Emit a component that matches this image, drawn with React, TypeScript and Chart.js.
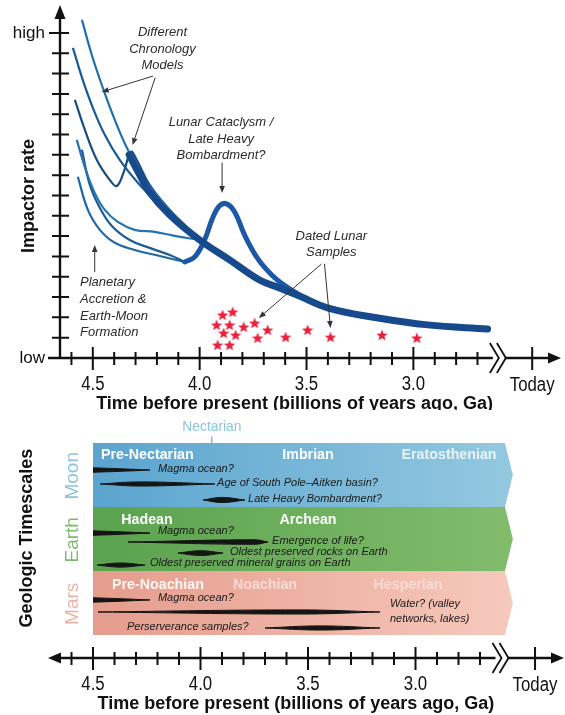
import React, { useEffect, useRef } from "react";
import { Chart, registerables } from "chart.js";

Chart.register(...registerables);

// ---------------- TOP PANEL DATA ----------------
// x = time before present (Ga), y = relative impactor rate (0 = low, 16 = high)
const model1Ga = [4.551, 4.505, 4.453, 4.397, 4.336, 4.257, 4.164, 4.07, 4.0];
const model1Rate = [16.65, 14.93, 13.3, 11.72, 10.25, 8.77, 7.54, 6.55, 5.91];
const model2Ga = [4.593, 4.547, 4.5, 4.444, 4.374, 4.28, 4.164, 4.047, 4.0];
const model2Rate = [15.27, 13.69, 12.32, 10.99, 9.75, 8.52, 7.29, 6.31, 5.91];
const model3Ga = [4.584, 4.537, 4.481, 4.421, 4.388, 4.355, 4.322, 4.294, 4.234, 4.14, 4.047, 4.0];
const model3Rate = [12.71, 11.23, 9.75, 8.77, 8.47, 9.16, 10.15, 9.75, 8.52, 7.29, 6.31, 5.91];
const model4Ga = [4.575, 4.533, 4.491, 4.444, 4.383, 4.304, 4.21, 4.117, 4.0];
const model4Rate = [10.74, 9.26, 8.13, 7.29, 6.7, 6.31, 6.21, 6.01, 5.81];
const model5Ga = [4.551, 4.514, 4.467, 4.411, 4.327, 4.234, 4.14, 4.07];
const model5Rate = [10.25, 8.52, 7.39, 6.5, 5.81, 5.42, 5.07, 4.73];
const model6Ga = [4.57, 4.523, 4.467, 4.397, 4.304, 4.187, 4.07];
const model6Rate = [8.92, 7.29, 6.31, 5.67, 5.32, 5.02, 4.73];
const lhbGa = [4.07, 4.023, 3.977, 3.939, 3.907, 3.874, 3.836, 3.79, 3.729, 3.664, 3.6, 3.533];
const lhbRate = [4.73, 4.98, 5.81, 6.9, 7.49, 7.59, 7.19, 6.06, 4.9, 4.1, 3.55, 3.1];
const mainGa = [4.33, 4.28, 4.234, 4.14, 4.0, 3.86, 3.72, 3.626, 3.533, 3.398, 3.165, 2.933, 2.653];
const mainRate = [10.0, 9.0, 8.15, 7.04, 5.81, 4.83, 3.84, 3.45, 3.05, 2.46, 1.97, 1.63, 1.43];
const sampleGa = [3.893, 3.846, 3.921, 3.86, 3.888, 3.832, 3.794, 3.743, 3.682, 3.729, 3.916, 3.86, 3.598, 3.495, 3.388, 3.147, 2.984];
const sampleRate = [2.12, 2.27, 1.63, 1.63, 1.23, 1.13, 1.53, 1.72, 1.38, 0.99, 0.64, 0.64, 1.03, 1.38, 1.03, 1.13, 0.99];

// axis ticks
const rateTicks = [1, 2, 3, 4, 5, 6, 7, 8, 9, 10, 11, 12, 13, 14, 15, 16];
const majorTickGa = [4.5, 4.0, 3.5, 3.0];
const majorTickLabels = ["4.5", "4.0", "3.5", "3.0"];
const minorTickGa = [4.6, 4.4, 4.3, 4.2, 4.1, 3.9, 3.8, 3.7, 3.6, 3.4, 3.3, 3.2, 3.1, 2.9, 2.8, 2.7];
const todayGa = 2.444;
const breakGa = 2.6;
const axisTitle = "Time before present (billions of years ago, Ga)";
const axisTitleGa = 3.556;

// top annotations (data units)
const noteLines = [
  ["Different", "Chronology", "Models"],
  ["Lunar Cataclysm /", "Late Heavy", "Bombardment?"],
  ["Dated Lunar", "Samples"],
  ["Planetary", "Accretion &", "Earth-Moon", "Formation"],
];
const noteGa = [4.174, 3.9, 3.384, 4.56];
const noteRate = [[16.02, 15.21, 14.42], [11.62, 10.78, 9.99], [6.01, 5.22], [3.74, 2.9, 2.07, 1.28]];
const noteAlign: CanvasTextAlign[] = ["center", "center", "center", "left"];
const arrowFromGa = [4.218, 4.208, 3.895, 3.43, 3.416, 4.491];
const arrowFromRate = [13.88, 13.8, 9.62, 4.63, 4.63, 4.23];
const arrowToGa = [4.458, 4.314, 3.895, 3.723, 3.388, 4.491];
const arrowToRate = [13.1, 10.49, 8.12, 1.97, 1.48, 5.56];

// ---------------- BOTTOM PANEL DATA ----------------
// y = lane units (each body occupies 4 units)
const bodies = ["Moon", "Earth", "Mars"];
const bodyTop = [0, 4, 8];
const bodyBottom = [4, 8, 12];
const bandStartGa = 4.5;
const bandEndGa = 2.584;
const bandTipGa = 2.547;
const eraNames = ["Pre-Nectarian", "Imbrian", "Eratosthenian", "Hadean", "Archean", "Pre-Noachian", "Noachian", "Hesperian"];
const eraGa = [4.247, 3.5, 2.844, 4.249, 3.5, 4.198, 3.7, 3.035];
const eraRow = [0.75, 0.75, 0.75, 4.81, 4.81, 8.88, 8.88, 8.88];
const eventNames = [
  "Magma ocean?",
  "Age of South Pole–Aitken basin?",
  "Late Heavy Bombardment?",
  "Magma ocean?",
  "Emergence of life?",
  "Oldest preserved rocks on Earth",
  "Oldest preserved mineral grains on Earth",
  "Magma ocean?",
  "Water? (valley\nnetworks, lakes)",
  "Perserverance samples?",
];
const eventRow = [1.69, 2.56, 3.56, 5.63, 6.19, 6.88, 7.63, 9.81, 10.56, 11.56];
const eventFromGa = [4.5, 4.467, 3.988, 4.5, 4.337, 4.105, 4.481, 4.5, 4.477, 3.7];
const eventPeakGa = [4.5, 4.281, 3.9, 4.5, 3.747, 4.0, 4.374, 4.5, 3.537, 3.444];
const eventToGa = [4.235, 3.933, 3.793, 4.235, 3.686, 3.895, 4.258, 4.235, 3.165, 3.165];
const eventHalf = [0.14, 0.13, 0.16, 0.14, 0.14, 0.15, 0.13, 0.14, 0.13, 0.13];
const eventLabelGa = [4.198, 3.923, 3.779, 4.198, 3.667, 3.863, 4.235, 4.198, 3.119, 4.342];
const eventLabelRow = [1.62, 2.5, 3.5, 5.5, 6.13, 6.81, 7.5, 9.69, 10.06, 11.5];
const nectarianGa = 3.947;

// ---------------- STYLES ----------------
const FONT = "'Liberation Sans', Arial, Helvetica, sans-serif";
const modelColors = ["#2170aa", "#1a5a94", "#184d84", "#2573ad", "#1b5b96", "#2068a3"];
const bodyColors = ["#8cc4dc", "#7dbb6c", "#e9b2a8"];
const bandLeft = ["#5aa4cf", "#5aa24e", "#e59c8c"];
const bandRight = ["#95c9e0", "#82bd6c", "#f6cabe"];
const eraColors = ["#ffffff", "#ffffff", "rgba(255,255,255,0.8)", "#ffffff", "#ffffff", "rgba(255,255,255,0.9)", "rgba(255,255,255,0.55)", "rgba(255,255,255,0.45)"];

function drawText(ctx: CanvasRenderingContext2D, s: string, x: number, y: number, font: string, color: string, align: CanvasTextAlign = "center", sx = 1, rot = 0) {
  ctx.save();
  ctx.translate(x, y);
  if (rot) ctx.rotate(rot);
  ctx.scale(sx, 1);
  ctx.font = font;
  ctx.fillStyle = color;
  ctx.textAlign = align;
  ctx.textBaseline = "middle";
  ctx.fillText(s, 0, 0);
  ctx.restore();
}

function drawArrow(ctx: CanvasRenderingContext2D, x1: number, y1: number, x2: number, y2: number, color: string) {
  const head = 7;
  const a = Math.atan2(y2 - y1, x2 - x1);
  const bx = x2 - head * Math.cos(a);
  const by = y2 - head * Math.sin(a);
  ctx.save();
  ctx.strokeStyle = color;
  ctx.fillStyle = color;
  ctx.lineWidth = 1;
  ctx.beginPath();
  ctx.moveTo(x1, y1);
  ctx.lineTo(bx, by);
  ctx.stroke();
  ctx.beginPath();
  ctx.moveTo(x2, y2);
  ctx.lineTo(bx + 2.8 * Math.sin(a), by - 2.8 * Math.cos(a));
  ctx.lineTo(bx - 2.8 * Math.sin(a), by + 2.8 * Math.cos(a));
  ctx.closePath();
  ctx.fill();
  ctx.restore();
}

function drawTimeAxis(chart: any, axisY: number, leftX: number, leftArrow: boolean) {
  const ctx: CanvasRenderingContext2D = chart.ctx;
  const xs = chart.scales.x;
  const breakX = xs.getPixelForValue(breakGa);
  const rightX = xs.right + 2;
  ctx.save();
  ctx.strokeStyle = "#111";
  ctx.fillStyle = "#111";
  ctx.lineWidth = 2.4;
  ctx.beginPath();
  ctx.moveTo(leftArrow ? leftX + 8 : leftX, axisY);
  ctx.lineTo(rightX - 8, axisY);
  ctx.stroke();
  ctx.beginPath();
  ctx.moveTo(rightX, axisY);
  ctx.lineTo(rightX - 13, axisY - 5.5);
  ctx.lineTo(rightX - 13, axisY + 5.5);
  ctx.closePath();
  ctx.fill();
  if (leftArrow) {
    ctx.beginPath();
    ctx.moveTo(leftX - 2, axisY);
    ctx.lineTo(leftX + 11, axisY - 5.5);
    ctx.lineTo(leftX + 11, axisY + 5.5);
    ctx.closePath();
    ctx.fill();
  }
  ctx.lineWidth = 2;
  ctx.beginPath();
  for (const g of minorTickGa) {
    const x = xs.getPixelForValue(g);
    ctx.moveTo(x, axisY - 6);
    ctx.lineTo(x, axisY + 7);
  }
  for (const g of [...majorTickGa, todayGa]) {
    const x = xs.getPixelForValue(g);
    ctx.moveTo(x, axisY - 11);
    ctx.lineTo(x, axisY + 12);
  }
  ctx.stroke();
  // axis break
  ctx.fillStyle = "#fff";
  ctx.fillRect(breakX - 6, axisY - 3, 12, 6);
  ctx.strokeStyle = "#111";
  ctx.lineWidth = 1.8;
  ctx.beginPath();
  for (const dx of [-4, 3]) {
    ctx.moveTo(breakX + dx - 5, axisY - 15);
    ctx.lineTo(breakX + dx + 4, axisY);
    ctx.lineTo(breakX + dx - 5, axisY + 15);
  }
  ctx.stroke();
  // labels
  majorTickGa.forEach((g, i) => {
    drawText(ctx, majorTickLabels[i], xs.getPixelForValue(g), axisY + 26, `20px ${FONT}`, "#111", "center", 0.84);
  });
  drawText(ctx, "Today", xs.getPixelForValue(todayGa), axisY + 27, `20px ${FONT}`, "#111", "center", 0.84);
  drawText(ctx, axisTitle, xs.getPixelForValue(axisTitleGa), axisY + 46, `bold 18px ${FONT}`, "#111", "center", 1);
  ctx.restore();
}

function makeStar(color: string): HTMLCanvasElement {
  const c = document.createElement("canvas");
  c.width = 12;
  c.height = 12;
  const ctx = c.getContext("2d")!;
  ctx.fillStyle = color;
  ctx.beginPath();
  for (let i = 0; i < 10; i++) {
    const r = i % 2 === 0 ? 6 : 2.6;
    const a = -Math.PI / 2 + (i * Math.PI) / 5;
    const px = 6 + r * Math.cos(a);
    const py = 6.5 + r * Math.sin(a);
    if (i === 0) ctx.moveTo(px, py);
    else ctx.lineTo(px, py);
  }
  ctx.closePath();
  ctx.fill();
  return c;
}

function pts(ga: number[], val: number[]) {
  return ga.map((g, i) => ({ x: g, y: val[i] }));
}

function topConfig(): any {
  const models = [
    [model1Ga, model1Rate],
    [model2Ga, model2Rate],
    [model3Ga, model3Rate],
    [model4Ga, model4Rate],
    [model5Ga, model5Rate],
    [model6Ga, model6Rate],
  ];
  const datasets: any[] = models.map(([g, r], i) => ({
    data: pts(g, r),
    borderColor: modelColors[i],
    borderWidth: 2.2,
    pointRadius: 0,
    tension: 0.4,
    fill: false,
    order: 5,
    clip: false,
  }));
  datasets.push({
    data: pts(lhbGa, lhbRate),
    borderColor: "#1c58a6",
    borderWidth: 5,
    pointRadius: 0,
    tension: 0.4,
    fill: false,
    order: 3,
    clip: false,
    borderCapStyle: "round",
  });
  datasets.push({
    data: pts(mainGa, mainRate),
    borderColor: "#17498d",
    borderWidth: 7,
    pointRadius: 0,
    tension: 0.4,
    fill: false,
    order: 2,
    clip: false,
    borderCapStyle: "round",
  });
  datasets.push({
    data: pts(sampleGa, sampleRate),
    showLine: false,
    pointStyle: makeStar("#ea1f3d"),
    pointRadius: 5,
    order: 1,
    clip: false,
  });

  const decor = {
    id: "topDecor",
    afterDraw(chart: any) {
      const ctx: CanvasRenderingContext2D = chart.ctx;
      const xs = chart.scales.x;
      const ys = chart.scales.y;
      const axisY = ys.getPixelForValue(0);
      const axisX = xs.left;
      // y axis
      ctx.save();
      ctx.strokeStyle = "#111";
      ctx.fillStyle = "#111";
      ctx.lineWidth = 2.4;
      ctx.beginPath();
      ctx.moveTo(axisX, axisY);
      ctx.lineTo(axisX, ys.top + 10);
      ctx.stroke();
      ctx.beginPath();
      ctx.moveTo(axisX, ys.top - 3);
      ctx.lineTo(axisX - 5.5, ys.top + 11);
      ctx.lineTo(axisX + 5.5, ys.top + 11);
      ctx.closePath();
      ctx.fill();
      ctx.lineWidth = 2;
      ctx.beginPath();
      for (const r of rateTicks) {
        const y = ys.getPixelForValue(r);
        ctx.moveTo(axisX - (r === 16 ? 11 : 8), y);
        ctx.lineTo(axisX + 9, y);
      }
      ctx.stroke();
      ctx.restore();
      drawText(ctx, "high", axisX - 15, ys.getPixelForValue(16), `17px ${FONT}`, "#111", "right");
      drawText(ctx, "low", axisX - 15, axisY, `17px ${FONT}`, "#111", "right");
      drawText(ctx, "Impactor rate", axisX - 31, ys.getPixelForValue(7.98), `bold 18px ${FONT}`, "#111", "center", 1, -Math.PI / 2);
      drawTimeAxis(chart, axisY, axisX - 12, false);
      // annotations
      noteLines.forEach((lines, i) => {
        lines.forEach((s, j) => {
          drawText(ctx, s, xs.getPixelForValue(noteGa[i]), ys.getPixelForValue(noteRate[i][j]), `italic 13px ${FONT}`, "#2b2b2b", noteAlign[i]);
        });
      });
      arrowFromGa.forEach((g, i) => {
        drawArrow(ctx, xs.getPixelForValue(g), ys.getPixelForValue(arrowFromRate[i]), xs.getPixelForValue(arrowToGa[i]), ys.getPixelForValue(arrowToRate[i]), "#333");
      });
    },
  };

  return {
    type: "line",
    data: { datasets },
    options: {
      responsive: false,
      animation: false,
      events: [],
      layout: { padding: { left: 60, right: 3, top: 8, bottom: 52 } },
      plugins: { legend: { display: false }, tooltip: { enabled: false } },
      scales: {
        x: { type: "linear", display: false, min: 2.3186, max: 4.6535, reverse: true },
        y: { type: "linear", display: false, min: 0, max: 17.23 },
      },
    },
    plugins: [decor],
  };
}

function bottomConfig(): any {
  const datasets: any[] = [];
  bodies.forEach((b, i) => {
    const mid = (bodyTop[i] + bodyBottom[i]) / 2;
    const grad = (c: any) => {
      const area = c.chart.chartArea;
      if (!area) return bandLeft[i];
      const g = c.chart.ctx.createLinearGradient(area.left + 30, 0, area.right - 40, 0);
      g.addColorStop(0, bandLeft[i]);
      g.addColorStop(1, bandRight[i]);
      return g;
    };
    datasets.push({
      data: pts([bandTipGa, bandEndGa, bandStartGa], [mid, bodyTop[i], bodyTop[i]]),
      borderWidth: 0,
      pointRadius: 0,
      tension: 0,
      fill: false,
      order: 3,
      clip: false,
    });
    datasets.push({
      data: pts([bandTipGa, bandEndGa, bandStartGa], [mid, bodyBottom[i], bodyBottom[i]]),
      borderWidth: 0,
      pointRadius: 0,
      tension: 0,
      fill: "-1",
      backgroundColor: grad,
      order: 3,
      clip: false,
    });
  });
  eventNames.forEach((_, i) => {
    const row = eventRow[i];
    const h = eventHalf[i];
    const blunt = eventPeakGa[i] === eventFromGa[i];
    const ga = blunt
      ? [eventToGa[i], (eventToGa[i] + eventFromGa[i]) / 2, eventFromGa[i]]
      : [eventToGa[i], eventPeakGa[i], eventFromGa[i]];
    const hs = blunt ? [0, 0.55 * h, h] : [0, h, 0];
    datasets.push({
      data: pts(ga, hs.map((v) => row - v)),
      borderColor: "#151515",
      borderWidth: 1,
      pointRadius: 0,
      tension: 0.4,
      fill: false,
      order: 1,
      clip: false,
    });
    datasets.push({
      data: pts(ga, hs.map((v) => row + v)),
      borderColor: "#151515",
      borderWidth: 1,
      pointRadius: 0,
      tension: 0.4,
      fill: "-1",
      backgroundColor: "#151515",
      order: 1,
      clip: false,
    });
  });

  const decor = {
    id: "bottomDecor",
    afterDraw(chart: any) {
      const ctx: CanvasRenderingContext2D = chart.ctx;
      const xs = chart.scales.x;
      const ys = chart.scales.y;
      eraNames.forEach((n, i) => {
        drawText(ctx, n, xs.getPixelForValue(eraGa[i]), ys.getPixelForValue(eraRow[i]), `bold 15px ${FONT}`, eraColors[i], "center", 0.95);
      });
      eventNames.forEach((n, i) => {
        n.split("\n").forEach((s, j) => {
          drawText(ctx, s, xs.getPixelForValue(eventLabelGa[i]), ys.getPixelForValue(eventLabelRow[i] + j * 0.94), `italic 11px ${FONT}`, "#1a1a1a", "left");
        });
      });
      // Nectarian
      const nx = xs.getPixelForValue(nectarianGa);
      drawText(ctx, "Nectarian", nx, ys.getPixelForValue(-1.0), `15px ${FONT}`, "#8cc4d8", "center", 0.92);
      ctx.save();
      ctx.strokeStyle = "#6a8a98";
      ctx.lineWidth = 1;
      ctx.beginPath();
      ctx.moveTo(nx, ys.getPixelForValue(-0.4));
      ctx.lineTo(nx, ys.getPixelForValue(0));
      ctx.stroke();
      ctx.restore();
      bodies.forEach((b, i) => {
        drawText(ctx, b, xs.left + 13, ys.getPixelForValue((bodyTop[i] + bodyBottom[i]) / 2 + 0.05), `19px ${FONT}`, bodyColors[i], "center", 1, -Math.PI / 2);
      });
      drawText(ctx, "Geologic Timescales", xs.left - 33, ys.getPixelForValue(5.94), `bold 18px ${FONT}`, "#111", "center", 1, -Math.PI / 2);
      drawTimeAxis(chart, ys.getPixelForValue(12) + 23, xs.left - 10, true);
    },
  };

  return {
    type: "line",
    data: { datasets },
    options: {
      responsive: false,
      animation: false,
      events: [],
      layout: { padding: { left: 60, right: 3, top: 33, bottom: 80 } },
      plugins: { legend: { display: false }, tooltip: { enabled: false } },
      scales: {
        x: { type: "linear", display: false, min: 2.3186, max: 4.6535, reverse: true },
        y: { type: "linear", display: false, min: 0, max: 12, reverse: true },
      },
    },
    plugins: [decor],
  };
}

export default function App() {
  const topRef = useRef<HTMLCanvasElement>(null);
  const botRef = useRef<HTMLCanvasElement>(null);
  useEffect(() => {
    const c1 = new Chart(topRef.current!, topConfig());
    const c2 = new Chart(botRef.current!, bottomConfig());
    return () => {
      c1.destroy();
      c2.destroy();
    };
  }, []);
  return (
    <div style={{ position: "absolute", left: 0, top: 0, width: 565, height: 715, background: "#fff" }}>
      <canvas ref={topRef} width={565} height={410} style={{ display: "block" }} />
      <canvas ref={botRef} width={565} height={305} style={{ display: "block" }} />
    </div>
  );
}
